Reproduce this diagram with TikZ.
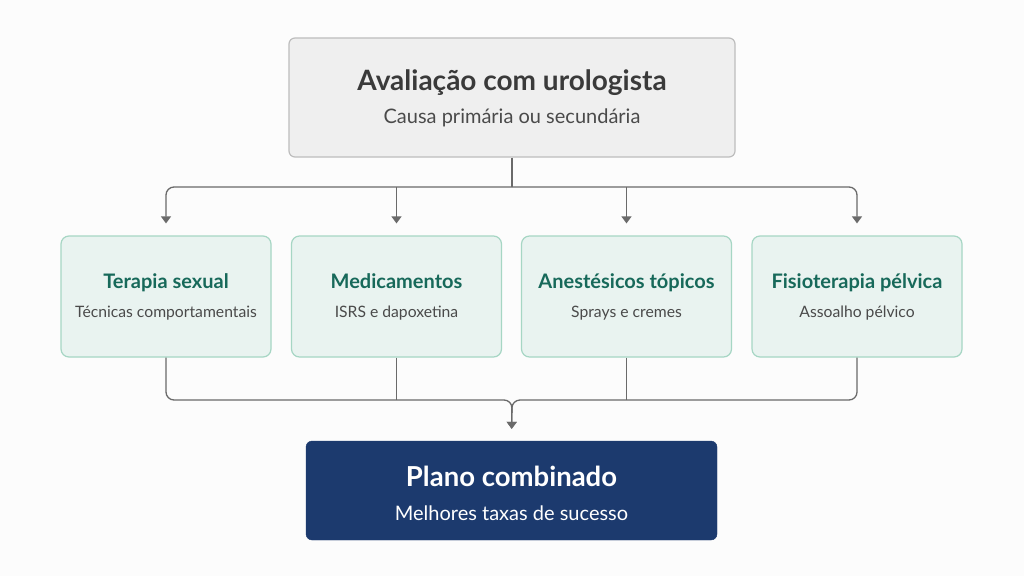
\documentclass[tikz,border=0pt]{standalone}
\usepackage{fontspec}
\setmainfont{Lato}
\usetikzlibrary{arrows.meta}
\definecolor{bgc}{HTML}{FCFCFC}
\definecolor{topfill}{HTML}{EFEFEF}
\definecolor{topdraw}{HTML}{BDBDBD}
\definecolor{topttl}{HTML}{3A3A3A}
\definecolor{subtxt}{HTML}{4A4A4A}
\definecolor{tfill}{HTML}{E9F3F0}
\definecolor{tdraw}{HTML}{A6D6C4}
\definecolor{tttl}{HTML}{17695A}
\definecolor{navy}{HTML}{1C3A6E}
\definecolor{linec}{HTML}{6A6A6A}
\tikzset{
  topbox/.style={draw=topdraw, fill=topfill, line width=1.2pt, rounded corners=6pt, minimum width=446pt, minimum height=119pt, inner sep=0pt},
  midbox/.style={draw=tdraw, fill=tfill, line width=1.2pt, rounded corners=8pt, minimum width=210pt, minimum height=121pt, inner sep=0pt},
  botbox/.style={draw=navy, fill=navy, rounded corners=6pt, minimum width=411pt, minimum height=99pt, inner sep=0pt},
  conn/.style={draw=linec, line width=1.3pt},
  arr/.style={conn, -{Triangle[length=7pt,width=10pt]}, shorten >=12pt},
  lbl/.style={inner sep=0pt, anchor=base},
  bigttl/.style={lbl, font=\fontsize{28}{32}\selectfont\bfseries},
  bigsub/.style={lbl, font=\fontsize{20}{24}\selectfont},
  midttl/.style={lbl, font=\fontsize{20}{24}\selectfont\bfseries, text=tttl},
  midsub/.style={lbl, font=\fontsize{15.7}{19}\selectfont, text=subtxt},
}
\begin{document}
\begin{tikzpicture}[x=1pt,y=-1pt]
\useasboundingbox (0,0) rectangle (1024,576);
\fill[bgc] (0,0) rectangle (1024,576);
% top box
\node[topbox] (T) at (512,97.5) {};
\node[bigttl, text=topttl] (Tt) at (512,90) {Avaliação com urologista};
\node[bigsub, text=subtxt] (Ts) at (512,123) {Causa primária ou secundária};
% middle boxes
\node[midbox] (b1) at (166,296.5) {};
\node[midbox] (b2) at (396.5,296.5) {};
\node[midbox] (b3) at (626.5,296.5) {};
\node[midbox] (b4) at (857,296.5) {};
\node[midttl] at (166,288) {Terapia sexual};
\node[midsub] at (166,317) {Técnicas comportamentais};
\node[midttl] at (396.5,288) {Medicamentos};
\node[midsub] at (396.5,317) {ISRS e dapoxetina};
\node[midttl] at (626.5,288) {Anestésicos tópicos};
\node[midsub] at (626.5,317) {Sprays e cremes};
\node[midttl] at (857,288) {Fisioterapia pélvica};
\node[midsub] at (857,317) {Assoalho pélvico};
% bottom box
\node[botbox] (P) at (511.5,490.5) {};
\node[bigttl, text=white, font=\fontsize{27.5}{32}\selectfont\bfseries] at (511.5,486) {Plano combinado};
\node[bigsub, text=white] at (511.5,520) {Melhores taxas de sucesso};
% connectors top
\coordinate (split) at (512,187);
\coordinate (merge) at (512,400);
\draw[conn] (T.south) -- (split);
\draw[arr, rounded corners=8pt] (split) -| (b1.north);
\draw[arr, rounded corners=8pt] (split) -| (b4.north);
\draw[arr] (b2.north |- split) -- (b2.north);
\draw[arr] (b3.north |- split) -- (b3.north);
% connectors bottom
\draw[arr, rounded corners=8pt] (b1.south) |- (merge) -- (P.north);
\draw[arr, rounded corners=8pt] (b4.south) |- (merge) -- (P.north);
\draw[conn] (b2.south) -- (b2.south |- merge);
\draw[conn] (b3.south) -- (b3.south |- merge);
\end{tikzpicture}
\end{document}
